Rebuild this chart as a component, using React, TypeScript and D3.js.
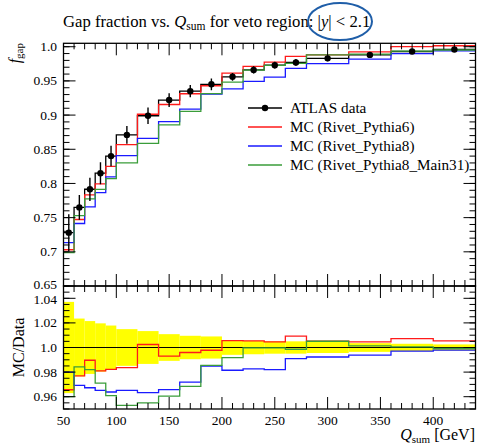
import React from "react";
import * as d3 from "d3";

// bin edges in Q_sum [GeV]
const edges = [50, 60, 70, 80, 90, 100, 120, 140, 160, 180, 200, 220, 240, 260, 280, 320, 360, 400, 440];

// ATLAS data and errors
const atlas = [0.728, 0.765, 0.7915, 0.815, 0.84, 0.871, 0.899, 0.922, 0.935, 0.945, 0.956, 0.966, 0.973, 0.977, 0.983, 0.988, 0.993, 0.996];
const atlasErr = [0.027, 0.018, 0.017, 0.016, 0.015, 0.013, 0.012, 0.01, 0.0089, 0.0085, 0.0057, 0.0053, 0.0049, 0.0049, 0.0044, 0.0035, 0.003, 0.0025];

// MC predictions
const pythia6 = [0.703, 0.7473, 0.7833, 0.7995, 0.8251, 0.8568, 0.9012, 0.9155, 0.9312, 0.9429, 0.9614, 0.9712, 0.9775, 0.986, 0.988, 0.9925, 1.0002, 1.0014];
const pythia8 = [0.7134, 0.7414, 0.7656, 0.7866, 0.8096, 0.8406, 0.866, 0.8904, 0.9087, 0.9308, 0.9383, 0.9492, 0.9555, 0.9682, 0.9754, 0.9818, 0.99, 0.9938];
const pythia8m31 = [0.6989, 0.7529, 0.7773, 0.7914, 0.8071, 0.83, 0.8586, 0.8856, 0.9055, 0.9313, 0.9482, 0.9657, 0.9727, 0.9756, 0.988, 0.9893, 0.9935, 0.9952];

const mainTicks = [0.65, 0.7, 0.75, 0.8, 0.85, 0.9, 0.95, 1.0];
const mainTickLabels = ["0.65", "0.7", "0.75", "0.8", "0.85", "0.9", "0.95", "1.0"];
const ratioTicks = [0.96, 0.98, 1.0, 1.02, 1.04];
const ratioTickLabels = ["0.96", "0.98", "1.0", "1.02", "1.04"];
const xTicks = [50, 100, 150, 200, 250, 300, 350, 400];

const series = [
  { name: "MC (Rivet_Pythia6)", values: pythia6, color: "#ff1a1a" },
  { name: "MC (Rivet_Pythia8)", values: pythia8, color: "#1a1aff" },
  { name: "MC (Rivet_Pythia8_Main31)", values: pythia8m31, color: "#3a9d3a" },
];

const W = 477;
const H = 445;
const left = 63.5;
const right = 475.5;
const mainTop = 43.3;
const mainBottom = 286;
const ratioBottom = 409;
const font = "'Liberation Serif', 'Times New Roman', serif";

export default function App() {
  const x = d3.scaleLinear().domain([50, 440]).range([left, right]);
  const y = d3.scaleLinear().domain([0.65, 1.005]).range([mainBottom, mainTop]);
  const yr = d3.scaleLinear().domain([0.95, 1.05]).range([ratioBottom, mainBottom]);

  const stepPath = (vals: number[], ys: d3.ScaleLinear<number, number>) => {
    const pts: [number, number][] = vals.map((v, i) => [edges[i], v]);
    pts.push([edges[edges.length - 1], vals[vals.length - 1]]);
    return d3
      .line<[number, number]>()
      .x((d) => x(d[0]))
      .y((d) => ys(d[1]))
      .curve(d3.curveStepAfter)(pts) as string;
  };

  const minorX = d3.range(50, 441, 10).filter((v) => v % 50 !== 0);
  const minorY = d3.range(0.65, 1.0051, 0.01).map((v) => +v.toFixed(3));
  const minorYr = d3.range(0.95, 1.0501, 0.005).map((v) => +v.toFixed(3));

  const xTickMarks = (yEdge: number, dir: number) => (
    <g stroke="#000" strokeWidth={1}>
      {xTicks.map((t) => (
        <line key={"M" + t} x1={x(t)} x2={x(t)} y1={yEdge} y2={yEdge + dir * 12} />
      ))}
      {minorX.map((t) => (
        <line key={"m" + t} x1={x(t)} x2={x(t)} y1={yEdge} y2={yEdge + dir * 6} />
      ))}
    </g>
  );

  const yTickMarks = (ys: d3.ScaleLinear<number, number>, major: number[], minor: number[]) => (
    <g stroke="#000" strokeWidth={1}>
      {major.map((t) => (
        <g key={"M" + t}>
          <line x1={left} x2={left + 12} y1={ys(t)} y2={ys(t)} />
          <line x1={right} x2={right - 12} y1={ys(t)} y2={ys(t)} />
        </g>
      ))}
      {minor.map((t) => (
        <g key={"m" + t}>
          <line x1={left} x2={left + 6} y1={ys(t)} y2={ys(t)} />
          <line x1={right} x2={right - 6} y1={ys(t)} y2={ys(t)} />
        </g>
      ))}
    </g>
  );

  const legendY = [108, 127, 146, 165];

  return (
    <svg width={W} height={H} style={{ position: "absolute", left: 0, top: 0, background: "#fff" }} fontFamily={font}>
      <defs>
        <clipPath id="mainClip">
          <rect x={left} y={mainTop} width={right - left} height={mainBottom - mainTop} />
        </clipPath>
        <clipPath id="ratioClip">
          <rect x={left} y={mainBottom} width={right - left} height={ratioBottom - mainBottom} />
        </clipPath>
      </defs>

      {/* title */}
      <text x={63} y={27} fontSize={16.7}>
        Gap fraction vs. <tspan fontStyle="italic">Q</tspan>
        <tspan fontSize={11.5} dy={3}>sum</tspan>
        <tspan dy={-3}> for veto region: |</tspan>
        <tspan fontStyle="italic">y</tspan>| &lt; 2.1
      </text>
      <ellipse cx={340} cy={21.5} rx={32} ry={18.5} fill="none" stroke="#1f5ea8" strokeWidth={2} />

      {/* main panel */}
      <g clipPath="url(#mainClip)">
        <path d={stepPath(atlas, y)} fill="none" stroke="#000" strokeWidth={1.3} />
        {series.map((s) => (
          <path key={s.name} d={stepPath(s.values, y)} fill="none" stroke={s.color} strokeWidth={1.3} />
        ))}
        {atlas.map((v, i) => {
          const cx = x((edges[i] + edges[i + 1]) / 2);
          return (
            <g key={i}>
              <line x1={cx} x2={cx} y1={y(v - atlasErr[i])} y2={y(v + atlasErr[i])} stroke="#000" strokeWidth={1.4} />
              <circle cx={cx} cy={y(v)} r={3.2} fill="#000" />
            </g>
          );
        })}
      </g>
      {xTickMarks(mainTop, 1)}
      {xTickMarks(mainBottom, -1)}
      {yTickMarks(y, mainTicks, minorY)}
      <rect x={left} y={mainTop} width={right - left} height={mainBottom - mainTop} fill="none" stroke="#000" strokeWidth={1.3} />
      {mainTicks.map((t, i) => (
        <text key={t} x={57} y={y(t) + (t === 0.65 ? 3 : 4.5)} fontSize={13.5} textAnchor="end">
          {mainTickLabels[i]}
        </text>
      ))}
      <text transform="translate(20,43) rotate(-90)" fontSize={16} textAnchor="end">
        <tspan fontStyle="italic">f</tspan>
        <tspan fontSize={11} dy={3}>gap</tspan>
      </text>

      {/* legend */}
      <g>
        <line x1={248} x2={282} y1={legendY[0]} y2={legendY[0]} stroke="#000" strokeWidth={1.3} />
        <circle cx={265} cy={legendY[0]} r={3.2} fill="#000" />
        <text x={290} y={legendY[0] + 5} fontSize={15.2}>ATLAS data</text>
        {series.map((s, i) => (
          <g key={s.name}>
            <line x1={248} x2={282} y1={legendY[i + 1]} y2={legendY[i + 1]} stroke={s.color} strokeWidth={1.3} />
            <text x={290} y={legendY[i + 1] + 5} fontSize={15.2}>{s.name}</text>
          </g>
        ))}
      </g>

      {/* ratio panel */}
      <g clipPath="url(#ratioClip)">
        {atlas.map((v, i) => (
          <rect
            key={i}
            x={x(edges[i])}
            width={x(edges[i + 1]) - x(edges[i])}
            y={yr(1 + atlasErr[i] / v)}
            height={yr(1 - atlasErr[i] / v) - yr(1 + atlasErr[i] / v)}
            fill="#ffff00"
          />
        ))}
        <line x1={left} x2={right} y1={yr(1)} y2={yr(1)} stroke="#000" strokeWidth={1.2} />
        {series.map((s) => (
          <path
            key={s.name}
            d={stepPath(s.values.map((v, i) => v / atlas[i]), yr)}
            fill="none"
            stroke={s.color}
            strokeWidth={1.3}
          />
        ))}
      </g>
      {xTickMarks(mainBottom, 1)}
      {xTickMarks(ratioBottom, -1)}
      {yTickMarks(yr, ratioTicks, minorYr)}
      <rect x={left} y={mainBottom} width={right - left} height={ratioBottom - mainBottom} fill="none" stroke="#000" strokeWidth={1.3} />
      {ratioTicks.map((t, i) => (
        <text key={t} x={57} y={yr(t) + (t === 1.04 ? 6 : 4.5)} fontSize={13.5} textAnchor="end">
          {ratioTickLabels[i]}
        </text>
      ))}
      {xTicks.map((t) => (
        <text key={t} x={x(t)} y={425} fontSize={13.5} textAnchor="middle">
          {t}
        </text>
      ))}
      <text transform={`translate(24,${(mainBottom + ratioBottom) / 2}) rotate(-90)`} fontSize={16} textAnchor="middle">
        MC/Data
      </text>
      <text x={475} y={440} fontSize={16} textAnchor="end">
        <tspan fontStyle="italic">Q</tspan>
        <tspan fontSize={11} dy={2.5}>sum</tspan>
        <tspan dy={-2.5}> [GeV]</tspan>
      </text>
    </svg>
  );
}
